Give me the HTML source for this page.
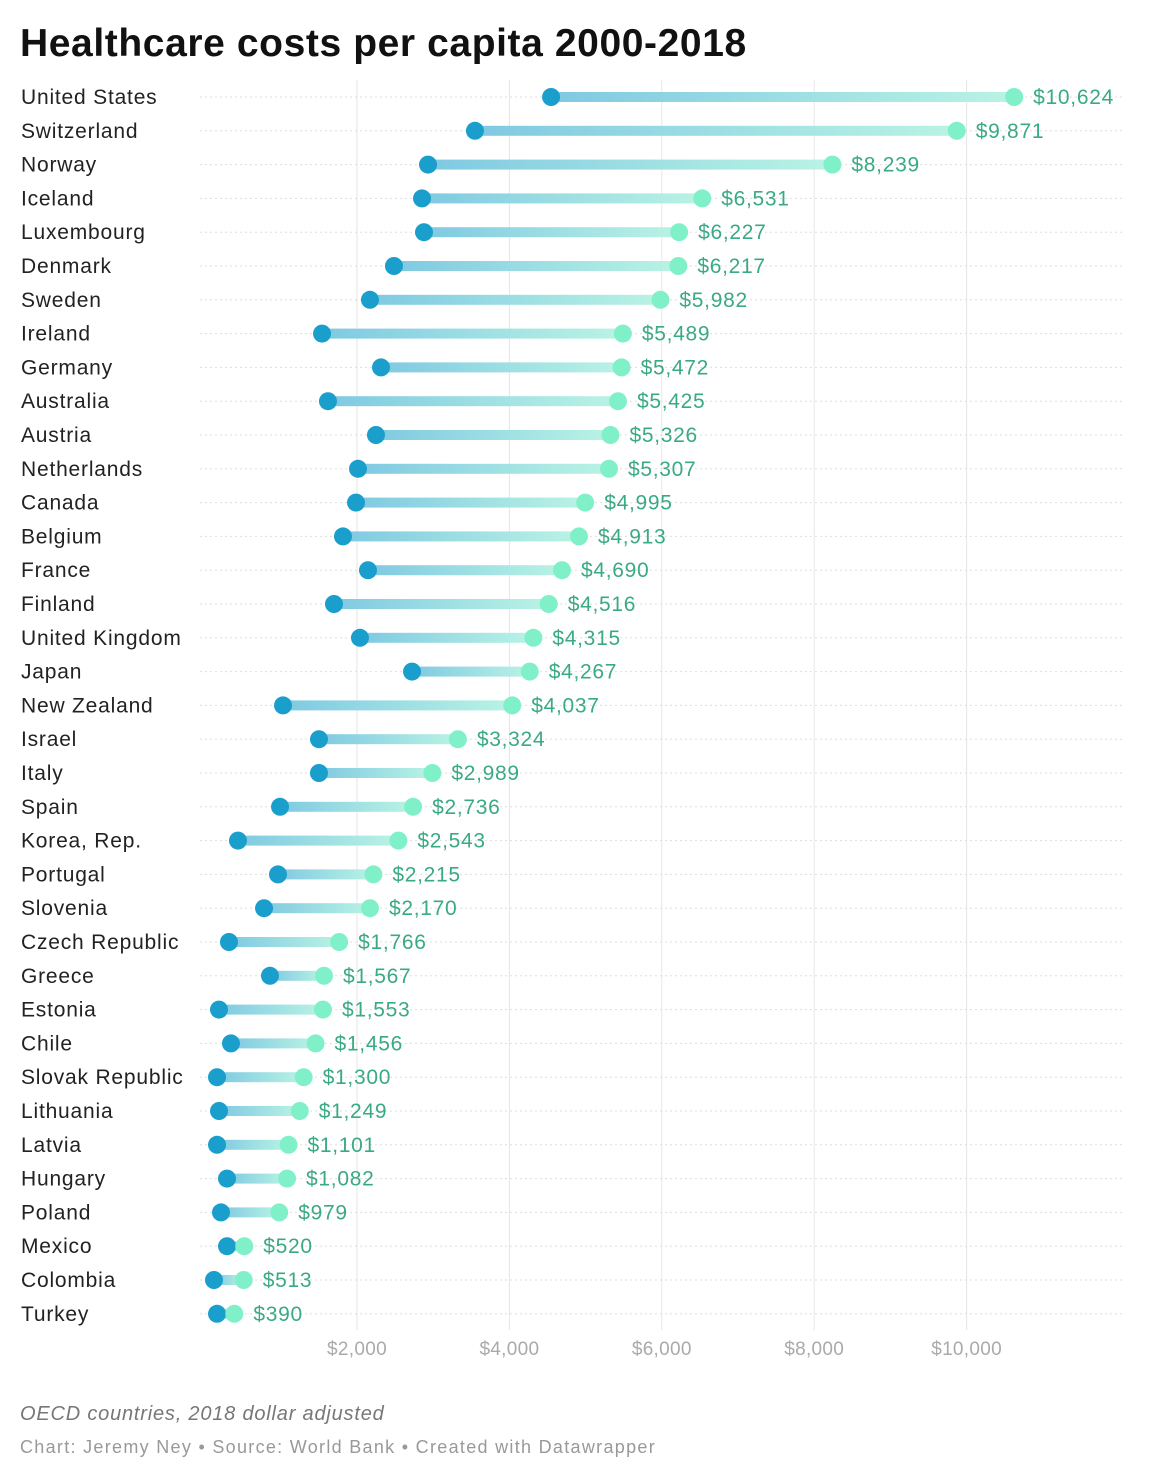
<!DOCTYPE html>
<html><head><meta charset="utf-8">
<style>
body{margin:0;background:#fff;font-family:"Liberation Sans",sans-serif;}
svg{display:block}
</style></head>
<body>
<svg id="chart" width="1164" height="1478" xmlns="http://www.w3.org/2000/svg">
<defs>
<linearGradient id="g" x1="0" x2="1" y1="0" y2="0">
<stop offset="0" stop-color="#7fc9e2"/><stop offset="1" stop-color="#b9f3e4"/>
</linearGradient>
</defs>
<text x="20" y="56" font-size="39" font-weight="bold" letter-spacing="0.6" fill="#111">Healthcare costs per capita 2000-2018</text>
<g id="grid"></g>
<g id="marks"></g>
<text x="20" y="1420" font-size="20" font-style="italic" letter-spacing="0.8" fill="#777">OECD countries, 2018 dollar adjusted</text>
<text x="20" y="1453" font-size="18" letter-spacing="1.3" fill="#999">Chart: Jeremy Ney • Source: World Bank • Created with Datawrapper</text>
</svg>
<script>
const countries=["United States","Switzerland","Norway","Iceland","Luxembourg","Denmark","Sweden","Ireland","Germany","Australia","Austria","Netherlands","Canada","Belgium","France","Finland","United Kingdom","Japan","New Zealand","Israel","Italy","Spain","Korea, Rep.","Portugal","Slovenia","Czech Republic","Greece","Estonia","Chile","Slovak Republic","Lithuania","Latvia","Hungary","Poland","Mexico","Colombia","Turkey"];
const values2000=[4547,3548,2932,2853,2879,2485,2170,1541,2315,1619,2249,2013,1987,1816,2144,1698,2039,2722,1029,1501,1501,990,438,963,780,320,858,189,346,163,189,163,294,215,294,123,163];
const values2018=[10624,9871,8239,6531,6227,6217,5982,5489,5472,5425,5326,5307,4995,4913,4690,4516,4315,4267,4037,3324,2989,2736,2543,2215,2170,1766,1567,1553,1456,1300,1249,1101,1082,979,520,513,390];
const ticks=[2000,4000,6000,8000,10000];
const NS="http://www.w3.org/2000/svg";
const x=v=>204.6+v*0.0762;
const y=i=>97+i*33.8;
function mk(tag,attrs,parent){const e=document.createElementNS(NS,tag);for(const k in attrs)e.setAttribute(k,attrs[k]);parent.appendChild(e);return e;}
const grid=document.getElementById('grid'),marks=document.getElementById('marks');
ticks.forEach(t=>{
  const l=mk('line',{x1:x(t),x2:x(t),y1:80,y2:1330,stroke:'#e6e6e6','stroke-width':1},grid);
  
  
  const tx=mk('text',{x:x(t),y:1355,'font-size':19,'letter-spacing':0.3,fill:'#aaa','text-anchor':'middle'},grid);
  tx.textContent='$'+t.toLocaleString('en-US');
  
  
});
countries.forEach((c,i)=>{
  const yy=y(i);
  const gl=mk('line',{x1:200,x2:1125,y1:yy,y2:yy,stroke:'#ddd','stroke-width':1,'stroke-dasharray':'2,3'},grid);
  
  
  const lab=mk('text',{x:21,y:yy+7,'font-size':21,'letter-spacing':0.8,fill:'#222'},marks);
  lab.textContent=c;
  
  
  const x1=x(values2000[i]),x2=x(values2018[i]);
  const r=mk('rect',{x:x1,y:yy-5,width:x2-x1,height:10,fill:'url(#g)'},marks);
  
  
  const d1=mk('circle',{cx:x1,cy:yy,r:9,fill:'#1a9ecb'},marks);
  
  
  const d2=mk('circle',{cx:x2,cy:yy,r:9,fill:'#80f0c9'},marks);
  
  
  const vl=mk('text',{x:x2+19,y:yy+7,'font-size':21,'letter-spacing':0.7,fill:'#3aa986'},marks);
  vl.textContent='$'+values2018[i].toLocaleString('en-US');
  
  
});
</script>
</body></html>
